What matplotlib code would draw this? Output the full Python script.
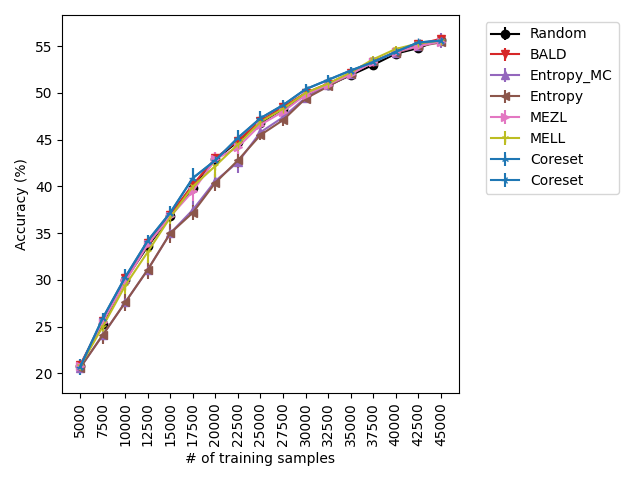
import matplotlib
matplotlib.use("Agg")
import matplotlib.pyplot as plt
import numpy as np

samples = [5000, 7500, 10000, 12500, 15000, 17500, 20000, 22500, 25000,
           27500, 30000, 32500, 35000, 37500, 40000, 42500, 45000]

random_m = [20.8, 25.3, 30.0, 33.6, 36.8, 39.8, 42.9, 44.8, 46.8, 48.3, 49.8, 50.8, 51.9, 53.0, 54.2, 54.8, 55.7]
random_s = [0.4, 0.5, 0.6, 0.5, 0.6, 0.6, 0.5, 0.5, 0.5, 0.4, 0.4, 0.4, 0.4, 0.4, 0.3, 0.4, 0.3]
bald_m = [20.9, 25.6, 30.2, 34.0, 37.0, 40.2, 43.0, 44.9, 47.0, 48.5, 50.0, 51.0, 52.1, 53.3, 54.4, 55.2, 55.8]
bald_s = [0.5, 0.6, 0.6, 0.5, 0.6, 0.6, 0.7, 0.6, 0.5, 0.4, 0.4, 0.4, 0.4, 0.3, 0.3, 0.4, 0.5]
entmc_m = [20.6, 24.1, 27.6, 31.1, 35.0, 37.5, 40.6, 42.6, 45.8, 47.4, 49.5, 50.8, 52.0, 53.4, 54.3, 55.0, 55.6]
entmc_s = [0.5, 0.8, 0.7, 0.8, 0.8, 0.9, 0.9, 1.2, 0.6, 0.6, 0.4, 0.4, 0.4, 0.4, 0.3, 0.3, 0.8]
ent_m = [20.6, 24.1, 27.6, 31.1, 35.0, 37.2, 40.4, 42.8, 45.5, 47.1, 49.4, 50.7, 52.0, 53.4, 54.3, 55.0, 55.4]
ent_s = [0.5, 1.0, 0.9, 1.0, 1.0, 0.8, 0.9, 0.8, 0.5, 0.6, 0.4, 0.4, 0.4, 0.4, 0.3, 0.4, 0.3]
mezl_m = [20.8, 25.5, 29.8, 33.8, 36.8, 39.5, 42.9, 44.2, 46.6, 48.0, 49.8, 50.9, 52.0, 53.3, 54.4, 55.0, 55.5]
mezl_s = [0.5, 0.6, 0.7, 0.7, 0.7, 1.1, 0.8, 0.7, 0.6, 0.5, 0.4, 0.4, 0.4, 0.4, 0.3, 0.4, 0.4]
mell_m = [20.8, 25.0, 29.4, 33.0, 36.7, 40.0, 42.2, 44.5, 46.9, 48.3, 50.0, 51.0, 52.2, 53.6, 54.7, 55.3, 55.6]
mell_s = [0.5, 0.7, 0.9, 1.2, 0.7, 0.8, 1.3, 0.7, 0.6, 0.5, 0.4, 0.4, 0.4, 0.4, 0.3, 0.3, 0.3]
core1_m = [20.7, 25.9, 30.3, 34.2, 37.2, 40.9, 42.8, 45.2, 47.3, 48.7, 50.4, 51.4, 52.4, 53.3, 54.4, 55.4, 55.6]
core1_s = [0.9, 0.6, 0.9, 0.6, 0.7, 1.1, 0.6, 0.8, 0.8, 0.5, 0.6, 0.5, 0.4, 0.4, 0.3, 0.3, 0.3]
core2_m = [20.7, 25.9, 30.3, 34.2, 37.2, 40.9, 42.8, 45.2, 47.3, 48.7, 50.4, 51.4, 52.4, 53.3, 54.4, 55.4, 55.6]
core2_s = [0.9, 0.6, 0.9, 0.6, 0.7, 1.1, 0.6, 0.8, 0.8, 0.5, 0.6, 0.5, 0.4, 0.4, 0.3, 0.3, 0.3]

names = ["Random", "BALD", "Entropy_MC", "Entropy", "MEZL", "MELL", "Coreset", "Coreset"]
means = [random_m, bald_m, entmc_m, ent_m, mezl_m, mell_m, core1_m, core2_m]
stds = [random_s, bald_s, entmc_s, ent_s, mezl_s, mell_s, core1_s, core2_s]
colors = ["black", "tab:red", "tab:purple", "tab:brown", "tab:pink", "tab:olive", "tab:blue", "tab:blue"]
markers = ["o", "v", "^", "<", ">", "1", "2", "3"]

fig, ax = plt.subplots(figsize=(6.4, 4.8), dpi=100)
x = np.arange(len(samples))
for n, m, s, c, mk in zip(names, means, stds, colors, markers):
    ax.errorbar(x, m, yerr=s, label=n, color=c, marker=mk)
ax.set_xticks(x)
ax.set_xticklabels([str(v) for v in samples], rotation=90)
ax.set_ylim(17.95, 58.35)
ax.set_xlabel("# of training samples")
ax.set_ylabel("Accuracy (%)")
ax.legend(bbox_to_anchor=(1.05, 1), loc="upper left")
fig.subplots_adjust(left=0.097, right=0.717, top=0.969, bottom=0.182)
fig.savefig("out.png")
